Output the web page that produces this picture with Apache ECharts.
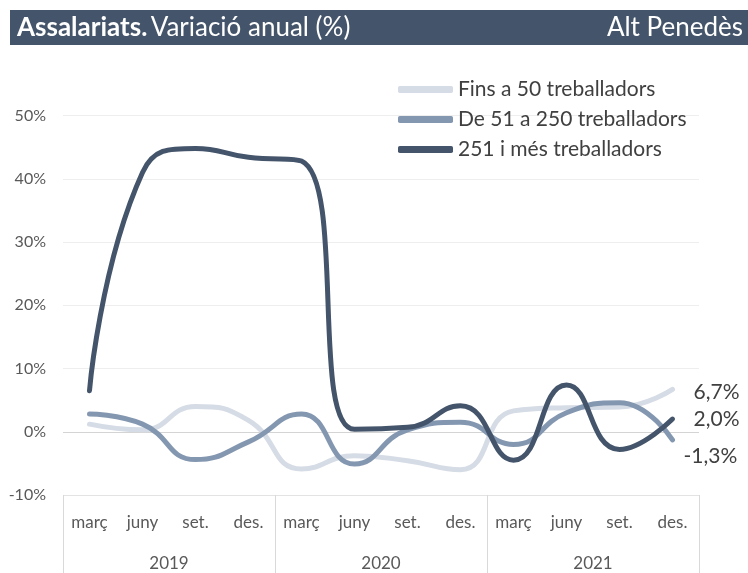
<!DOCTYPE html>
<html>
<head>
<meta charset="utf-8">
<script src="https://cdn.jsdelivr.net/npm/echarts@6/dist/echarts.min.js"></script>
<style>
  html, body { margin: 0; padding: 0; background: #fff; }
  #chart { width: 748px; height: 573px; }
</style>
</head>
<body>
<div id="chart"></div>
<script>
// Months and years (two-level category axis)
const months = ['març', 'juny', 'set.', 'des.', 'març', 'juny', 'set.', 'des.', 'març', 'juny', 'set.', 'des.'];
const years = ['2019', '2020', '2021'];

// Series values (% annual variation)
const seriesNames = ['Fins a 50 treballadors', 'De 51 a 250 treballadors', '251 i més treballadors'];
const small = [1.2, 0.3, 4.0, 1.8, -5.9, -3.8, -4.6, -6.0, 3.3, 3.8, 3.9, 6.7];
const medium = [2.8, 1.2, -4.4, -1.6, 2.8, -5.1, 0.3, 1.5, -2.0, 3.0, 4.6, -1.3];
const large = [6.5, 41.0, 44.8, 43.4, 42.8, 0.4, 0.7, 4.1, -4.5, 7.4, -2.8, 2.0];

const FONT = 'Lato, "Noto Sans", sans-serif';
const COLORS = ['#d6dce5', '#8497b0', '#44546a'];

let chart = echarts.init(document.getElementById('chart'));

/* End-of-line value labels, nudged apart like the original. */
function endLabel(offset) {
    return {
        show: true,
        distance: 21,
        offset: offset,
        color: '#404040',
        fontSize: 21,
        fontFamily: FONT,
        formatter: function (p) {
            return p.value.toFixed(1).replace('.', ',') + '%';
        }
    };
}

function lineSeries(idx, data, labelOffset) {
    return {
        name: seriesNames[idx],
        type: 'line',
        data: data,
        smooth: 0.5,
        symbol: 'none',
        lineStyle: { width: 5, color: COLORS[idx], cap: 'round', join: 'round' },
        itemStyle: { color: COLORS[idx] },
        endLabel: endLabel(labelOffset)
    };
}

let options = {
    animation: false,
    textStyle: { fontFamily: FONT },
    graphic: [
        {
            type: 'rect',
            shape: { x: 10, y: 10, width: 738, height: 35 },
            style: { fill: '#44546a' },
            silent: true
        },
        {
            type: 'text',
            x: 17,
            y: 28,
            style: {
                text: '{b|Assalariats.} {n|Variació anual (%)}',
                verticalAlign: 'middle',
                rich: {
                    b: { fill: '#fff', fontSize: 26, fontWeight: 'bold', fontFamily: FONT },
                    n: { fill: '#fff', fontSize: 26, fontFamily: FONT }
                }
            }
        },
        {
            type: 'text',
            x: 743,
            y: 28,
            style: {
                text: 'Alt Penedès',
                align: 'right',
                verticalAlign: 'middle',
                fill: '#fff',
                fontSize: 26,
                fontFamily: FONT
            }
        }
    ],
    legend: {
        data: seriesNames,
        orient: 'vertical',
        left: 398,
        top: 79,
        padding: 0,
        itemGap: 9,
        itemWidth: 55,
        itemHeight: 7,
        icon: 'roundRect',
        textStyle: { fontSize: 21, color: '#404040', fontFamily: FONT }
    },
    grid: {
        left: 63,
        right: 49,
        top: 115.5,
        bottom: 78,
        containLabel: false
    },
    xAxis: [
        {
            type: 'category',
            data: months,
            boundaryGap: true,
            axisLine: { show: false },
            axisTick: { show: false },
            axisLabel: { interval: 0, margin: 19, fontSize: 17, color: '#595959', fontFamily: FONT }
        },
        {
            type: 'category',
            data: years,
            position: 'bottom',
            boundaryGap: true,
            axisLine: { show: false },
            axisTick: { show: true, interval: 0, length: 80, lineStyle: { color: '#d9d9d9', width: 1 } },
            axisLabel: { margin: 60, fontSize: 17, color: '#595959', fontFamily: FONT }
        }
    ],
    yAxis: {
        type: 'value',
        min: -10,
        max: 50,
        interval: 10,
        axisLine: { show: false },
        axisTick: { show: false },
        axisLabel: {
            margin: 17,
            fontSize: 16,
            color: '#595959',
            fontFamily: FONT,
            formatter: '{value}%'
        },
        splitLine: {
            lineStyle: {
                color: ['#e3e3e3', '#d4d4d4', '#eeeeee', '#eeeeee', '#eeeeee', '#eeeeee', '#eeeeee'],
                width: 1
            }
        }
    },
    series: [
        lineSeries(0, small, [0, 3]),
        lineSeries(1, medium, [-10, 16]),
        lineSeries(2, large, [0, 0])
    ]
};

chart.setOption(options);

window.addEventListener('resize', function () {
    chart.resize();
});
</script>
</body>
</html>
